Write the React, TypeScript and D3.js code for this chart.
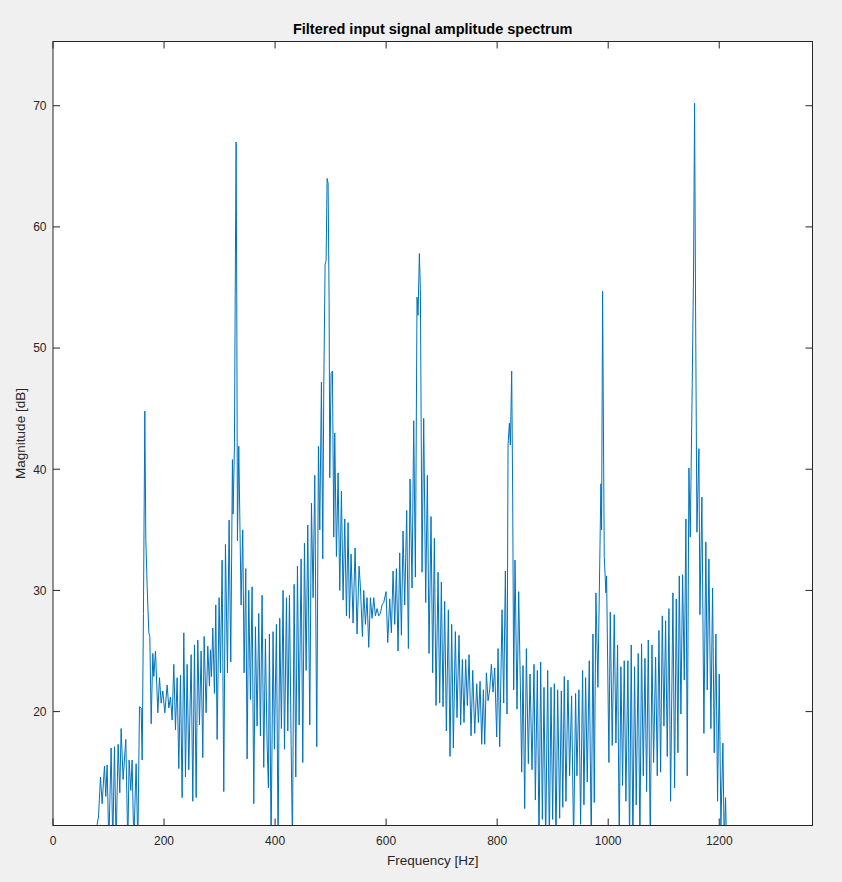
import React from 'react';
import * as d3 from 'd3';

const titleText = 'Filtered input signal amplitude spectrum';
const xLabelText = 'Frequency [Hz]';
const yLabelText = 'Magnitude [dB]';
const xTicks = [0, 200, 400, 600, 800, 1000, 1200];
const yTicks = [20, 30, 40, 50, 60, 70];
const xDomain = [0, 1368];
const yDomain = [10.6, 75.3];

// Spectrum: frequency [Hz] and magnitude [dB]
const freqHz = [
  75, 79.5, 81.9, 85.5, 88.5, 92.7, 95.1, 97.5, 100.5, 104.7, 107.7, 110.7, 113.7, 117.3, 120.3, 122.7,
  126.3, 131.1, 134.7, 137.1, 140.1, 142.5, 145.5, 149.7, 152.8, 155.8, 158.8, 160.6, 162.9, 165.4, 167.2,
  169.6, 172.6, 174.4, 176.8, 179.8, 181.6, 184.6, 188.8, 191.8, 194.8, 197.8, 201.4, 205.6, 208.6, 211.6,
  214.6, 217.6, 220.6, 223.6, 226.6, 229.6, 232.6, 235.6, 238.6, 241.6, 244.6, 248.8, 251.8, 254.8, 257.8,
  260.8, 263.8, 266.8, 269.8, 272.2, 275.8, 278.8, 281.8, 283.6, 285.4, 287.8, 290.8, 293.2, 295.6, 299.2,
  301.6, 304.6, 307.6, 310.6, 314.2, 317.2, 320.2, 323.2, 324.4, 326.8, 328.6, 329.8, 331.0, 332.2, 334.6,
  336.4, 338.8, 341.8, 344.2, 347.2, 349.6, 352.6, 355.6, 358.6, 361.6, 364.6, 367.6, 370.6, 373.6, 376.6,
  379.6, 382.6, 385.6, 388.0, 389.8, 392.8, 396.4, 398.8, 402.4, 405.4, 408.4, 411.4, 414.4, 416.9, 420.5,
  422.9, 425.9, 428.9, 431.3, 434.3, 437.3, 440.3, 443.3, 446.9, 449.9, 452.9, 455.9, 458.9, 462.5, 465.5,
  468.5, 471.5, 475.1, 478.1, 480.5, 483.5, 485.9, 487.7, 490.1, 491.9, 493.7, 495.5, 497.3, 498.5, 500.9,
  503.3, 505.7, 507.5, 510.5, 513.5, 516.5, 519.5, 522.5, 525.5, 528.5, 531.5, 533.9, 536.9, 540.5, 544.1,
  547.7, 551.3, 553.7, 557.3, 559.7, 562.7, 565.7, 568.7, 571.7, 574.7, 577.7, 580.7, 583.7, 586.7, 589.7,
  592.7, 595.7, 599.9, 602.9, 606.5, 609.5, 612.5, 615.5, 618.5, 621.5, 624.5, 627.5, 630.5, 633.5, 637.1,
  640.1, 643.1, 646.7, 649.7, 652.7, 655.7, 657.5, 659.9, 661.7, 664.7, 667.7, 671.3, 674.3, 677.3, 680.9,
  683.9, 686.9, 689.9, 693.5, 696.5, 699.5, 702.5, 705.5, 708.5, 712.1, 715.1, 718.1, 721.1, 724.7, 727.7,
  731.3, 734.3, 737.3, 740.3, 743.3, 746.3, 749.4, 753.0, 756.0, 759.6, 763.2, 766.2, 769.2, 772.2, 775.2,
  777.6, 780.6, 783.6, 786.6, 789.6, 792.6, 795.6, 799.2, 801.6, 804.6, 808.8, 811.8, 814.8, 817.8, 819.6,
  822.0, 823.8, 826.2, 828.0, 829.8, 832.2, 835.8, 838.8, 841.8, 844.2, 846.6, 849.6, 852.6, 856.2, 859.2,
  862.8, 866.4, 868.8, 872.4, 875.4, 878.4, 881.4, 884.4, 887.4, 891.0, 894.0, 897.0, 900.0, 903.0, 906.0,
  909.0, 912.6, 915.6, 918.2, 920.9, 923.9, 927.5, 930.5, 934.1, 937.7, 941.3, 943.7, 947.3, 950.3, 953.9,
  956.3, 959.3, 962.3, 965.9, 969.5, 972.5, 974.9, 977.9, 981.5, 986.9, 988.1, 989.9, 992.9, 995.9, 997.1,
  1001.3, 1003.7, 1007.3, 1010.9, 1013.9, 1016.9, 1019.9, 1022.9, 1025.9, 1028.9, 1031.9, 1035.5, 1038.5,
  1041.5, 1044.5, 1047.5, 1050.5, 1054.1, 1057.1, 1060.1, 1063.2, 1066.2, 1069.2, 1072.2, 1075.8, 1078.8,
  1081.8, 1085.4, 1088.4, 1091.4, 1094.4, 1097.4, 1100.4, 1103.4, 1106.4, 1109.4, 1112.4, 1116.6, 1119.6,
  1122.6, 1125.6, 1128.0, 1131.0, 1134.0, 1137.0, 1140.0, 1142.4, 1145.4, 1147.8, 1151.4, 1153.8, 1155.6,
  1157.4, 1159.8, 1163.4, 1165.2, 1168.8, 1172.4, 1175.9, 1178.4, 1181.4, 1185.0, 1188.0, 1191.0, 1194.0,
  1197.0, 1200.0, 1203.0, 1206.6, 1209.0, 1211.4, 1213.2, 1216.0,
];

const magDb = [
  9, 10.7, 11.3, 14.6, 12.4, 15.5, 13.0, 15.6, 9, 17.0, 9, 17.1, 9, 17.3, 13.3, 18.6,
  14.4, 17.7, 9, 16.0, 13.5, 16.0, 9, 15.7, 9, 20.4, 20.3, 16.0, 28.1, 44.8, 34.2,
  30.3, 26.5, 26.2, 19.0, 24.8, 22.9, 25.0, 19.9, 22.8, 20.7, 21.7, 19.9, 22.2, 20.3, 21.2,
  19.3, 23.9, 18.5, 22.8, 15.3, 23.0, 12.9, 26.5, 14.6, 23.9, 15.2, 24.7, 12.6, 25.5, 12.9,
  25.9, 18.9, 25.0, 16.2, 26.2, 19.9, 25.4, 22.1, 25.1, 22.9, 26.9, 21.5, 28.8, 17.7, 29.4,
  23.2, 32.5, 13.4, 33.8, 23.2, 35.8, 24.1, 40.8, 36.3, 41.9, 57.6, 67.0, 53.9, 34.1, 41.9,
  36.3, 28.8, 35.0, 23.2, 31.8, 16.1, 30.0, 21.0, 30.3, 12.4, 27.0, 18.8, 28.1, 18.0, 29.6,
  15.4, 26.0, 17.4, 13.7, 26.4, 9, 26.6, 16.9, 27.2, 9, 27.7, 18.6, 30.0, 16.9, 29.4,
  18.4, 29.6, 17.3, 9, 30.5, 14.6, 32.0, 18.9, 32.6, 15.8, 33.9, 23.4, 35.4, 18.9, 37.2,
  29.4, 39.5, 17.1, 41.9, 35.0, 47.2, 32.6, 46.8, 56.9, 57.2, 64.0, 63.6, 53.9, 39.3, 47.9,
  48.1, 34.4, 43.0, 32.8, 39.7, 30.0, 38.2, 29.2, 35.9, 27.9, 35.6, 27.7, 33.0, 27.3, 33.5,
  26.4, 32.0, 30.3, 26.2, 30.0, 27.2, 29.4, 25.3, 29.4, 27.7, 29.4, 27.9, 28.5, 27.9, 28.1,
  28.8, 29.0, 29.9, 25.7, 29.3, 26.5, 31.6, 27.2, 31.8, 25.0, 33.1, 26.3, 34.9, 28.8, 36.6,
  25.2, 39.2, 30.2, 44.0, 31.1, 54.2, 52.7, 57.8, 54.9, 31.5, 44.2, 29.0, 39.5, 24.8, 36.1,
  23.2, 34.3, 20.5, 31.5, 20.7, 30.7, 20.4, 29.1, 18.4, 28.4, 16.3, 27.2, 17.0, 26.6, 19.5,
  26.3, 18.9, 24.3, 19.1, 24.3, 20.5, 24.7, 18.0, 23.4, 18.2, 22.3, 19.1, 22.5, 17.3, 21.8,
  17.3, 23.2, 20.9, 21.8, 23.9, 21.6, 23.6, 17.9, 25.2, 17.1, 28.4, 20.7, 31.6, 19.8, 42.0,
  43.8, 42.0, 48.1, 37.7, 21.8, 32.5, 20.2, 29.9, 22.2, 15.0, 23.8, 12.0, 25.2, 15.7, 23.1,
  15.2, 23.9, 12.7, 23.4, 9, 24.1, 11.1, 22.0, 9, 23.4, 9, 22.0, 11.1, 22.3, 9,
  21.8, 11.2, 21.7, 12.1, 22.9, 12.6, 22.6, 14.7, 21.3, 9, 21.5, 14.7, 21.8, 10.7, 23.4,
  12.3, 22.8, 14.2, 24.2, 9, 26.4, 12.5, 29.8, 22.0, 38.8, 35.0, 54.7, 32.8, 29.8, 31.2,
  15.8, 28.2, 17.2, 28.0, 17.4, 25.5, 9, 23.7, 13.9, 24.2, 12.6, 24.2, 9,
  25.5, 9, 23.7, 12.3, 24.8, 9, 25.6, 14.7, 24.4, 13.4, 25.9, 9, 25.5,
  15.8, 24.5, 14.7, 26.7, 15.0, 27.9, 18.8, 27.5, 16.3, 28.5, 12.6, 29.8, 13.7,
  29.3, 16.6, 31.2, 19.8, 31.3, 22.6, 35.9, 14.7, 40.1, 34.4, 47.1, 56.6, 70.2,
  53.4, 34.8, 41.7, 28.0, 37.7, 18.2, 34.0, 21.8, 32.6, 18.6, 30.2, 16.6, 26.4,
  12.6, 23.1, 10.6, 17.4, 9, 12.9, 9, 5,
];

const W = 842;
const H = 882;
const boxL = 53;
const boxR = 812.5;
const boxT = 41.5;
const boxB = 825.5;
const tickLen = 7;
const axisColor = '#262626';
const lineColor = '#0072BD';
const fontFamily = '"Liberation Sans", Arial, Helvetica, sans-serif';

export default function App() {
  const x = d3.scaleLinear().domain(xDomain).range([boxL, boxR]);
  const y = d3.scaleLinear().domain(yDomain).range([boxB, boxT]);
  const pts: [number, number][] = freqHz.map((f, i) => [f, magDb[i]]);
  const lineGen = d3
    .line<[number, number]>()
    .x((d) => x(d[0]))
    .y((d) => y(d[1]));
  const path = lineGen(pts) || '';
  const cx = (boxL + boxR) / 2;
  const cy = (boxT + boxB) / 2;

  return (
    <svg
      width={W}
      height={H}
      style={{ position: 'absolute', left: 0, top: 0, display: 'block' }}
      fontFamily={fontFamily}
    >
      <rect x={0} y={0} width={W} height={H} fill="#f0f0f0" />
      <defs>
        <clipPath id="plotClip">
          <rect x={boxL} y={boxT} width={boxR - boxL} height={boxB - boxT} />
        </clipPath>
      </defs>
      <rect x={boxL} y={boxT} width={boxR - boxL} height={boxB - boxT} fill="#ffffff" />
      <g clipPath="url(#plotClip)">
        <path d={path} fill="none" stroke={lineColor} strokeWidth={1} strokeLinejoin="round" />
      </g>
      <rect
        x={boxL}
        y={boxT}
        width={boxR - boxL}
        height={boxB - boxT}
        fill="none"
        stroke={axisColor}
        strokeWidth={1}
      />
      {xTicks.map((t) => (
        <g key={'xt' + t}>
          <line x1={x(t)} x2={x(t)} y1={boxB} y2={boxB - tickLen} stroke={axisColor} strokeWidth={1} />
          <line x1={x(t)} x2={x(t)} y1={boxT} y2={boxT + tickLen} stroke={axisColor} strokeWidth={1} />
          <text x={x(t)} y={844.5} textAnchor="middle" fontSize={12} fill={axisColor}>
            {t}
          </text>
        </g>
      ))}
      {yTicks.map((t) => (
        <g key={'yt' + t}>
          <line x1={boxL} x2={boxL + tickLen} y1={y(t)} y2={y(t)} stroke={axisColor} strokeWidth={1} />
          <line x1={boxR} x2={boxR - tickLen} y1={y(t)} y2={y(t)} stroke={axisColor} strokeWidth={1} />
          <text x={46.5} y={y(t) + 4.3} textAnchor="end" fontSize={12} fill={axisColor}>
            {t}
          </text>
        </g>
      ))}
      <text x={cx} y={34} textAnchor="middle" fontSize={14.5} fontWeight="bold" fill="#000000">
        {titleText}
      </text>
      <text x={cx} y={864.5} textAnchor="middle" fontSize={13.5} fill={axisColor}>
        {xLabelText}
      </text>
      <text
        transform={`translate(24.7, ${cy}) rotate(-90)`}
        textAnchor="middle"
        fontSize={13.5}
        fill={axisColor}
      >
        {yLabelText}
      </text>
    </svg>
  );
}
